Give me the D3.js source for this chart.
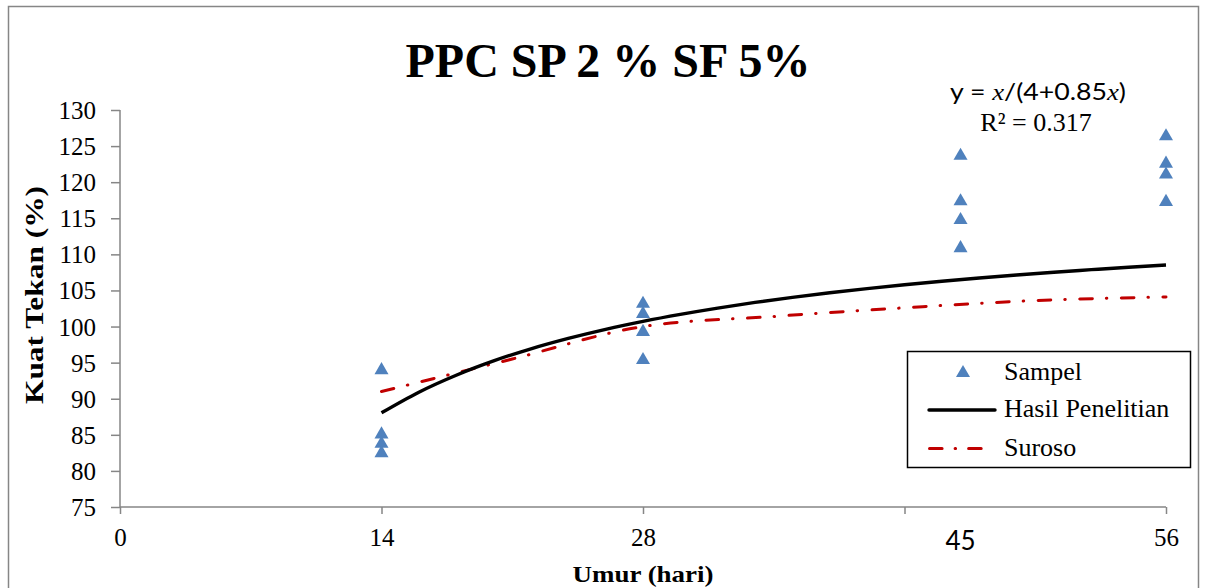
<!DOCTYPE html>
<html>
<head>
<meta charset="utf-8">
<script src="https://cdn.jsdelivr.net/npm/d3@7/dist/d3.min.js"></script>
<style>
  html, body { margin: 0; padding: 0; background: #fff; }
  svg { display: block; }
</style>
</head>
<body>
<svg id="chart" width="1205" height="588"></svg>
<script>
// Compressive strength (% of 28-day) vs. age in days
const sampleDays   = [14, 14, 14, 14, 28, 28, 28, 28, 45, 45, 45, 45, 56, 56, 56, 56];
const sampleValues = [94.1, 85.2, 83.9, 82.6, 103.3, 101.9, 99.4, 95.5, 123.8, 117.5, 114.9, 111.0, 126.5, 122.7, 121.2, 117.4];

// Fitted curve y = x/(4+0.85x), tabulated in %
const fitDays   = [14, 16, 18, 20, 22, 24, 26, 28, 30, 32, 34, 36, 38, 40, 42, 44, 46, 48, 50, 52, 54, 56];
const fitValues = [88.05, 90.91, 93.26, 95.24, 96.92, 98.36, 99.62, 100.72, 101.69, 102.56, 103.34, 104.05,
                   104.68, 105.26, 105.79, 106.28, 106.73, 107.14, 107.53, 107.88, 108.22, 108.53];

// Reference curve (Suroso)
const surosoDays   = [14, 21, 28, 35, 42, 49, 56];
const surosoValues = [91.0, 95.5, 100.0, 101.4, 102.6, 103.6, 104.1];

const xTickValues = [0, 14, 28, 42, 56];
const xTickLabels = ["0", "14", "28", "", "56"];
const yTickValues = [75, 80, 85, 90, 95, 100, 105, 110, 115, 120, 125, 130];

const svg = d3.select("#chart");
const serif = "'Liberation Serif', 'Times New Roman', serif";
const sans = "Lato, 'Open Sans', 'Noto Sans', sans-serif";
const axisGrey = "#868686";
const blue = "#4F81BD";
const red = "#C00000";

// outer frame
svg.append("rect")
  .attr("x", 8.5).attr("y", 6.5).attr("width", 1190).attr("height", 600)
  .attr("fill", "none").attr("stroke", axisGrey).attr("stroke-width", 1.5);

const x = d3.scaleLinear().domain([0, 56]).range([120, 1166]);
const y = d3.scaleLinear().domain([75, 130]).range([507, 110]);

// y axis
const gy = svg.append("g").attr("transform", "translate(120,0)")
  .call(d3.axisLeft(y).tickValues(yTickValues).tickSize(9).tickPadding(15).tickFormat(d3.format("d")));
gy.select(".domain").attr("stroke", axisGrey).attr("stroke-width", 1.5).attr("d", "M0,110V507");
gy.selectAll(".tick line").attr("stroke", axisGrey).attr("stroke-width", 1.5);
gy.selectAll(".tick text").attr("font-family", serif).attr("font-size", 25).attr("fill", "#000")
  .attr("dy", "0.34em");

// x axis
const gx = svg.append("g").attr("transform", "translate(0,507)")
  .call(d3.axisBottom(x).tickValues(xTickValues).tickSize(7).tickPadding(14)
    .tickFormat((d, i) => xTickLabels[i]));
gx.select(".domain").attr("stroke", axisGrey).attr("stroke-width", 1.5).attr("d", "M120,0H1166");
gx.selectAll(".tick line").attr("stroke", axisGrey).attr("stroke-width", 1.5);
gx.selectAll(".tick text").attr("font-family", serif).attr("font-size", 25).attr("fill", "#000");

// day-45 label
svg.append("text").attr("x", x(45)).attr("y", 550).attr("text-anchor", "middle")
  .attr("font-family", sans).attr("font-size", 26).attr("fill", "#000").text("45");

// curves
const line = d3.line().x(d => x(d[0])).y(d => y(d[1])).curve(d3.curveMonotoneX);

svg.append("path")
  .datum(surosoDays.map((d, i) => [d, surosoValues[i]]))
  .attr("d", line).attr("fill", "none").attr("stroke", red).attr("stroke-width", 3)
  .attr("stroke-linecap", "round").attr("stroke-dasharray", "12.6,14,0.5,14.5");

svg.append("path")
  .datum(fitDays.map((d, i) => [d, fitValues[i]]))
  .attr("d", line).attr("fill", "none").attr("stroke", "#000").attr("stroke-width", 3.4);

// sample markers
const tri = d3.symbol().type(d3.symbolTriangle).size(85);
svg.append("g").selectAll("path")
  .data(sampleDays.map((d, i) => [d, sampleValues[i]]))
  .join("path")
  .attr("transform", d => `translate(${x(d[0])},${y(d[1]) + 1})`)
  .attr("d", tri).attr("fill", blue);

// title
svg.append("text").attr("x", 608).attr("y", 77).attr("text-anchor", "middle")
  .attr("font-family", serif).attr("font-weight", "bold").attr("font-size", 48)
  .attr("fill", "#000").text("PPC SP 2 % SF 5%");

// regression label
const eq = svg.append("text").attr("x", 1038).attr("y", 100).attr("text-anchor", "middle")
  .attr("font-family", sans).attr("font-size", 24).attr("fill", "#000")
  .attr("textLength", 176).attr("lengthAdjust", "spacingAndGlyphs");
eq.append("tspan").text("y = ");
eq.append("tspan").attr("font-family", serif).attr("font-style", "italic").text("x");
eq.append("tspan").text("/(4+0.85");
eq.append("tspan").attr("font-family", serif).attr("font-style", "italic").text("x");
eq.append("tspan").text(")");

svg.append("text").attr("x", 1036).attr("y", 131).attr("text-anchor", "middle")
  .attr("font-family", serif).attr("font-size", 26).attr("fill", "#000").text("R² = 0.317");

// axis titles
svg.append("text").attr("x", 643).attr("y", 582).attr("text-anchor", "middle")
  .attr("font-family", serif).attr("font-weight", "bold").attr("font-size", 23)
  .attr("textLength", 141).attr("lengthAdjust", "spacingAndGlyphs")
  .attr("fill", "#000").text("Umur (hari)");

svg.append("text").attr("transform", "translate(43,295) rotate(-90)").attr("text-anchor", "middle")
  .attr("font-family", serif).attr("font-weight", "bold").attr("font-size", 25)
  .attr("textLength", 218).attr("lengthAdjust", "spacingAndGlyphs")
  .attr("fill", "#000").text("Kuat Tekan (%)");

// legend
const lg = svg.append("g");
lg.append("rect").attr("x", 907.5).attr("y", 351.5).attr("width", 283).attr("height", 116)
  .attr("fill", "#fff").attr("stroke", "#000").attr("stroke-width", 1.5);
lg.append("path").attr("transform", "translate(963,373)").attr("d", tri).attr("fill", blue);
lg.append("line").attr("x1", 929).attr("x2", 995).attr("y1", 410).attr("y2", 410)
  .attr("stroke", "#000").attr("stroke-width", 3.4).attr("stroke-linecap", "round");
lg.append("line").attr("x1", 929.5).attr("x2", 984).attr("y1", 448.5).attr("y2", 448.5)
  .attr("stroke", red).attr("stroke-width", 3).attr("stroke-linecap", "round")
  .attr("stroke-dasharray", "12.6,13,0.5,13");
const legendLabels = ["Sampel", "Hasil Penelitian", "Suroso"];
const legendBaselines = [380, 417, 456];
lg.selectAll("text.lab").data(legendLabels).join("text").attr("class", "lab")
  .attr("x", 1004).attr("y", (d, i) => legendBaselines[i])
  .attr("font-family", serif).attr("font-size", 26).attr("fill", "#000").text(d => d);
</script>
</body>
</html>
